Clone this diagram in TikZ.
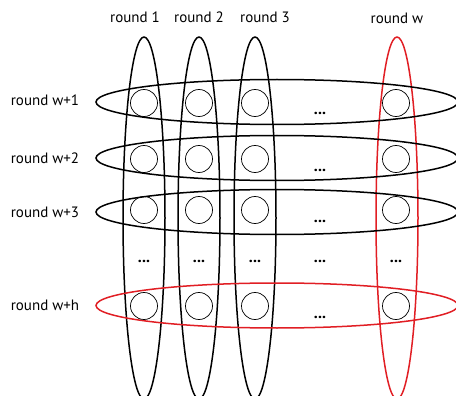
\documentclass[tikz,border=0pt]{standalone}
\usepackage{fontspec}
\setmainfont{PT Sans}
\usetikzlibrary{shapes.geometric}
\definecolor{myred}{RGB}{225,30,36}
\begin{document}
\begin{tikzpicture}[x=1pt,y=-1pt,
  colell/.style={draw,ellipse,line width=1.5pt,minimum width=42pt,minimum height=362pt,inner sep=0pt},
  rowell/.style={draw,ellipse,line width=1.5pt,minimum width=362pt,minimum height=45pt,inner sep=0pt},
  cell/.style={draw,circle,line width=0.7pt,minimum size=27pt,inner sep=0pt},
  lbl/.style={font=\fontsize{15}{17}\selectfont,inner sep=0pt},
  dots/.style={font=\fontsize{16}{18}\selectfont\bfseries,inner sep=0pt}]
\useasboundingbox (0,0) rectangle (456,396);
% column ellipses
\node[colell] (c1) at (144,218) {};
\node[colell] (c2) at (199,218) {};
\node[colell] (c3) at (255,218) {};
\node[colell,draw=myred] (cw) at (397,218) {};
% row ellipses
\node[rowell] (r1) at (277,102) {};
\node[rowell] (r2) at (277,158) {};
\node[rowell] (r3) at (277,212) {};
\node[rowell,draw=myred] (rh) at (277,305.5) {};
% column labels
\node[lbl] (lc1) at (135,17) {round 1};
\node[lbl] (lc2) at (199,17) {round 2};
\node[lbl] (lc3) at (265,17) {round 3};
\node[lbl] (lcw) at (397,18) {round w};
% row labels
\node[lbl] (lr1) at (45,100) {round w+1};
\node[lbl] (lr2) at (45,158) {round w+2};
\node[lbl] (lr3) at (45,212) {round w+3};
\node[lbl] (lrh) at (45,305) {round w+h};
% cells
\foreach \r/\y in {1/103,2/159,3/210,h/306}{
  \foreach \c/\x in {1/144,2/199,3/255,w/396}{
    \node[cell] (n\r\c) at (\x,\y) {};
  }
}
% dots in rows
\node[dots] (d1) at (320,113) {...};
\node[dots] (d2) at (320,170) {...};
\node[dots] (d3) at (320,221) {...};
\node[dots] (dh) at (320,317) {...};
% dots row
\node[dots] (e1) at (144,261) {...};
\node[dots] (e2) at (199,261) {...};
\node[dots] (e3) at (255,261) {...};
\node[dots] (e4) at (320,261) {...};
\node[dots] (e5) at (396,261) {...};
\end{tikzpicture}
\end{document}
